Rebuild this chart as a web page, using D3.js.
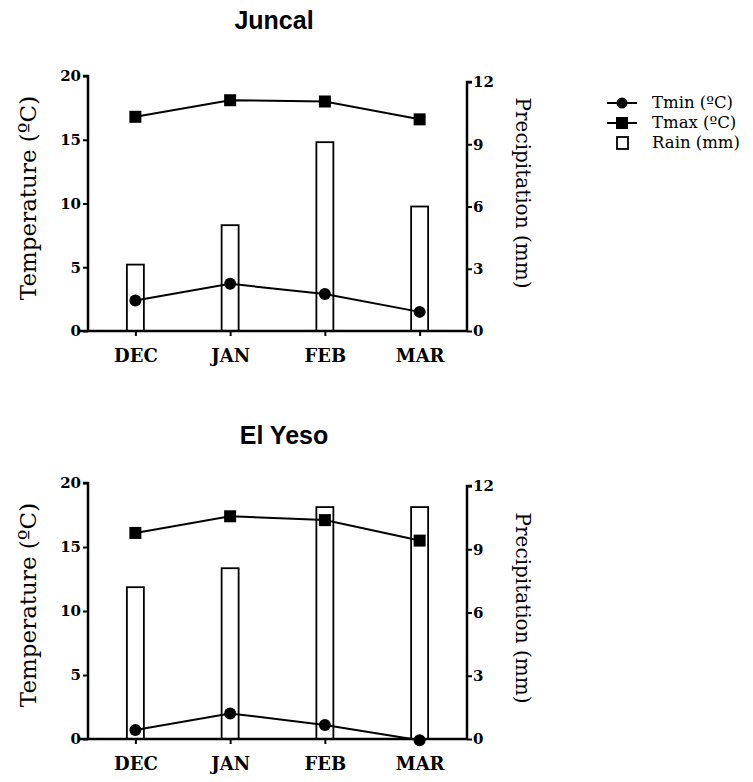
<!DOCTYPE html>
<html><head><meta charset="utf-8">
<script src="https://cdn.jsdelivr.net/npm/d3@7"></script>
<style>
body{margin:0;background:#fff;}
svg{display:block;}
</style></head>
<body>
<svg id="c" width="753" height="782"></svg>
<script>
const months = ["DEC","JAN","FEB","MAR"];
const tempTicks = [0,5,10,15,20];
const rainTicks = [0,3,6,9,12];
const juncalTmin = [2.4, 3.7, 2.9, 1.5];
const juncalTmax = [16.8, 18.1, 18.0, 16.6];
const juncalRain = [3.2, 5.1, 9.1, 6.0];
const yesoTmin = [0.7, 2.0, 1.1, -0.1];
const yesoTmax = [16.1, 17.4, 17.1, 15.5];
const yesoRain = [7.2, 8.1, 11.0, 11.0];
const legendItems = ["Tmin (ºC)","Tmax (ºC)","Rain (mm)"];

const svg = d3.select("#c");
const serif = "'DejaVu Serif', serif";
const sans = "'Liberation Sans', Arial, sans-serif";

function panel(cfg){
  const g = svg.append("g");
  const x = d3.scalePoint().domain(months).range([88,467]).padding(0.5);
  const yT = d3.scaleLinear().domain([0,20]).range([cfg.base, cfg.topT]);
  const yR = d3.scaleLinear().domain([0,12]).range([cfg.base, cfg.topR]);

  // title
  g.append("text").attr("x", cfg.titleX).attr("y", cfg.titleY)
    .attr("text-anchor","middle").attr("font-family",sans).attr("font-weight","bold")
    .attr("font-size",25).text(cfg.title);

  // bars
  const bw = 17;
  g.selectAll("rect.bar").data(cfg.rain).enter().append("rect")
    .attr("x",(d,i)=>x(months[i])-bw/2).attr("width",bw)
    .attr("y",d=>yR(d)).attr("height",d=>cfg.base-yR(d))
    .attr("fill","#fff").attr("stroke","#000").attr("stroke-width",1.8);

  // axes
  const la = g.append("g").attr("transform",`translate(88,0)`)
    .call(d3.axisLeft(yT).tickValues(tempTicks).tickSize(5).tickPadding(2));
  const ra = g.append("g").attr("transform",`translate(467,0)`)
    .call(d3.axisRight(yR).tickValues(rainTicks).tickSize(5).tickPadding(1));
  const xa = g.append("g").attr("transform",`translate(0,${cfg.base})`)
    .call(d3.axisBottom(x).tickSize(5).tickPadding(13));
  [la,ra,xa].forEach(a=>{
    a.select(".domain").attr("stroke","#000").attr("stroke-width",2.5);
    a.selectAll(".tick line").attr("stroke","#000").attr("stroke-width",2);
    a.selectAll("text").attr("font-family",serif).attr("fill","#000");
  });
  la.selectAll("text").attr("font-size",15).attr("font-weight","bold");
  ra.selectAll("text").attr("font-size",15).attr("font-weight","bold");
  xa.selectAll("text").attr("font-size",18).attr("font-weight","bold");
  la.select(".domain").attr("d",`M0,${cfg.base}V${cfg.topT}H-5`);
  ra.select(".domain").attr("d",`M0,${cfg.base}V${cfg.topR}H5`);
  xa.select(".domain").attr("d",`M${88-8},0H467`);

  // axis titles
  g.append("text").attr("transform",`translate(36,${cfg.tTitleY}) rotate(-90)`)
    .attr("text-anchor","middle").attr("font-family",serif).attr("font-size",23)
    .text("Temperature (ºC)");
  g.append("text").attr("transform",`translate(516,${cfg.rTitleY}) rotate(90)`)
    .attr("text-anchor","middle").attr("font-family",serif).attr("font-size",20)
    .text("Precipitation (mm)");

  // lines
  const line = d3.line().x((d,i)=>x(months[i])).y(d=>yT(d));
  g.append("path").datum(cfg.tmax).attr("d",line).attr("fill","none")
    .attr("stroke","#000").attr("stroke-width",2);
  g.append("path").datum(cfg.tmin).attr("d",line).attr("fill","none")
    .attr("stroke","#000").attr("stroke-width",2);
  g.selectAll("rect.tmax").data(cfg.tmax).enter().append("rect")
    .attr("x",(d,i)=>x(months[i])-6).attr("y",d=>yT(d)-6)
    .attr("width",12).attr("height",12).attr("fill","#000");
  g.selectAll("circle.tmin").data(cfg.tmin).enter().append("circle")
    .attr("cx",(d,i)=>x(months[i])).attr("cy",d=>yT(d)).attr("r",6).attr("fill","#000");
}

panel({title:"Juncal", titleX:274, titleY:29, base:331, topT:76, topR:82,
  tmin:juncalTmin, tmax:juncalTmax, rain:juncalRain, tTitleY:198, rTitleY:193});
panel({title:"El Yeso", titleX:284, titleY:444, base:739, topT:483, topR:486,
  tmin:yesoTmin, tmax:yesoTmax, rain:yesoRain, tTitleY:605, rTitleY:608});

// legend
const lg = svg.append("g");
const ly = [103,123,143];
legendItems.forEach((t,i)=>{
  const y = ly[i];
  if(i<2){
    lg.append("line").attr("x1",607).attr("x2",637).attr("y1",y).attr("y2",y)
      .attr("stroke","#000").attr("stroke-width",2);
    if(i===0) lg.append("circle").attr("cx",622).attr("cy",y).attr("r",5.5).attr("fill","#000");
    else lg.append("rect").attr("x",616).attr("y",y-6).attr("width",12).attr("height",12).attr("fill","#000");
  } else {
    lg.append("rect").attr("x",617).attr("y",y-6).attr("width",11).attr("height",12)
      .attr("fill","#fff").attr("stroke","#000").attr("stroke-width",1.8);
  }
  lg.append("text").attr("x",652).attr("y",y+5).attr("font-family",serif)
    .attr("font-size",16.5).text(t);
});
</script>
</body></html>
